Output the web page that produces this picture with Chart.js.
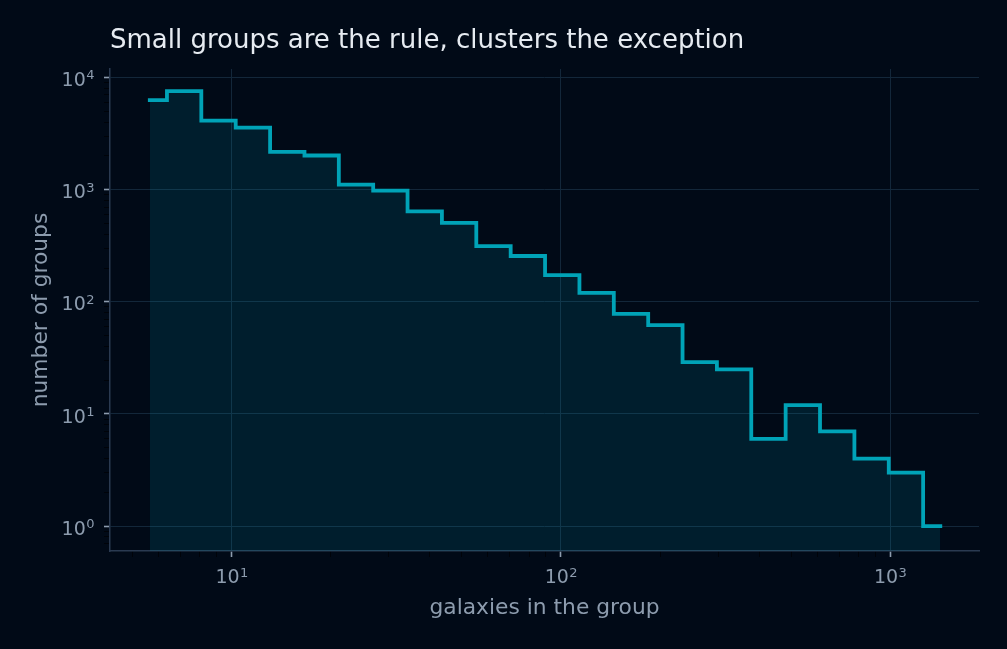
<!DOCTYPE html>
<html>
<head>
<meta charset="utf-8">
<script src="https://cdn.jsdelivr.net/npm/chart.js@4.4.1/dist/chart.umd.min.js"></script>
<style>
  html, body { margin: 0; padding: 0; background: #010a17; }
  canvas { display: block; }
</style>
</head>
<body>
<canvas id="groupChart" width="1007" height="649"></canvas>
<script>
// geometric bin centres (galaxies per group) and how many groups fall in each
const groupSizes = [5.64, 7.17, 9.12, 11.6, 14.75, 18.76, 23.85, 30.33, 38.57, 49.05, 62.38, 79.33,
  100.9, 128.3, 163.2, 207.5, 263.9, 335.5, 426.7, 542.6, 690.1, 877.6, 1116, 1419];
const groupCounts = [6290, 7560, 4120, 3570, 2175, 2015, 1107, 980, 641, 506, 314, 256,
  173, 120, 78, 62, 29, 25, 6, 12, 7, 4, 3, 1];

const xTickExponents = [1, 2, 3];
const yTickExponents = [0, 1, 2, 3, 4];

const titleText = 'Small groups are the rule, clusters the exception';
const xTitle = 'galaxies in the group';
const yTitle = 'number of groups';

const BG = '#010a17';
const LINE = '#00a3b7';
const FILL = 'rgba(0, 150, 175, 0.15)';
const GRID = '#13273a';
const SPINE = '#2a3a51';
const TICK = '#8d9cae';
const MINOR = '#000309';
const FONT = '"DejaVu Sans", sans-serif';

const X_MIN = 4.27, X_MAX = 1860;
const Y_MIN = 0.642, Y_MAX = 11900;

// 1..9 x 10^n marks inside the range, powers of ten flagged as major
const logTicks = (lo, hi) => {
  const out = [];
  for (let d = Math.floor(Math.log10(lo)); d <= Math.ceil(Math.log10(hi)); d++) {
    for (let k = 1; k <= 9; k++) {
      const v = k * Math.pow(10, d);
      if (v >= lo && v <= hi) out.push({ value: v, major: k === 1 });
    }
  }
  return out;
};

const isMajor = v => Math.abs(Math.log10(v) - Math.round(Math.log10(v))) < 1e-9;

const axisStyle = (size) => ({
  type: 'logarithmic',
  afterBuildTicks: scale => {
    scale.ticks = scale.axis === 'x' ? logTicks(X_MIN, X_MAX) : logTicks(Y_MIN, Y_MAX);
  },
  afterFit: scale => {
    if (scale.axis === 'x') scale.height = size;
    else scale.width = size;
  },
  grid: {
    color: ctx => (ctx.tick && isMajor(ctx.tick.value)) ? GRID : 'rgba(0,0,0,0)',
    lineWidth: 1,
    tickColor: ctx => (ctx.tick && isMajor(ctx.tick.value)) ? TICK : MINOR,
    tickWidth: ctx => (ctx.tick && isMajor(ctx.tick.value)) ? 1.6 : 1,
    tickLength: 6,
    drawTicks: true
  },
  border: { display: true, color: SPINE, width: 1.5 },
  ticks: { autoSkip: false, callback: () => '', font: { size: 1 } }
});

const drawPower = (ctx, exp, x, y, align) => {
  ctx.font = `19px ${FONT}`;
  const wBase = ctx.measureText('10').width;
  ctx.font = `13px ${FONT}`;
  const wExp = ctx.measureText(String(exp)).width;
  const x0 = align === 'center' ? x - (wBase + wExp) / 2 : x - wBase - wExp;
  ctx.font = `19px ${FONT}`;
  ctx.fillText('10', x0, y);
  ctx.font = `13px ${FONT}`;
  ctx.fillText(String(exp), x0 + wBase + 0.4, y - 6.7);
};

const textPlugin = {
  id: 'textPlugin',
  beforeDraw(chart) {
    const { ctx } = chart;
    ctx.save();
    ctx.fillStyle = BG;
    ctx.fillRect(0, 0, chart.width, chart.height);
    ctx.restore();
  },
  afterDraw(chart) {
    const { ctx, chartArea, scales } = chart;
    ctx.save();
    ctx.textAlign = 'left';
    ctx.textBaseline = 'alphabetic';

    ctx.fillStyle = '#e6ebf1';
    ctx.font = `26px ${FONT}`;
    ctx.fillText(titleText, chartArea.left, 48.3);

    ctx.fillStyle = TICK;
    xTickExponents.forEach(e => {
      drawPower(ctx, e, scales.x.getPixelForValue(Math.pow(10, e)), 583.3, 'center');
    });
    yTickExponents.forEach(e => {
      drawPower(ctx, e, 94, scales.y.getPixelForValue(Math.pow(10, e)) + 8.7, 'right');
    });

    ctx.font = `21.8px ${FONT}`;
    ctx.textAlign = 'center';
    ctx.fillText(xTitle, (chartArea.left + chartArea.right) / 2, 614.3);
    ctx.translate(47, (chartArea.top + chartArea.bottom) / 2);
    ctx.rotate(-Math.PI / 2);
    ctx.fillText(yTitle, 0, 0);
    ctx.restore();
  }
};

const ctx = document.getElementById('groupChart').getContext('2d');

new Chart(ctx, {
  type: 'line',
  data: {
    datasets: [{
      data: groupSizes.map((x, i) => ({ x, y: groupCounts[i] })),
      stepped: 'middle',
      borderColor: LINE,
      borderWidth: 3.8,
      borderJoinStyle: 'miter',
      borderCapStyle: 'square',
      backgroundColor: FILL,
      fill: 'start',
      pointRadius: 0,
      pointHoverRadius: 0
    }]
  },
  options: {
    responsive: false,
    animation: false,
    devicePixelRatio: 1,
    layout: { padding: { left: 0, right: 28, top: 69, bottom: 0 } },
    plugins: {
      legend: { display: false },
      tooltip: { enabled: false },
      title: { display: false }
    },
    scales: {
      x: { ...axisStyle(98), min: X_MIN, max: X_MAX, position: 'bottom' },
      y: { ...axisStyle(110), min: Y_MIN, max: Y_MAX, position: 'left' }
    }
  },
  plugins: [textPlugin]
});
</script>
</body>
</html>
